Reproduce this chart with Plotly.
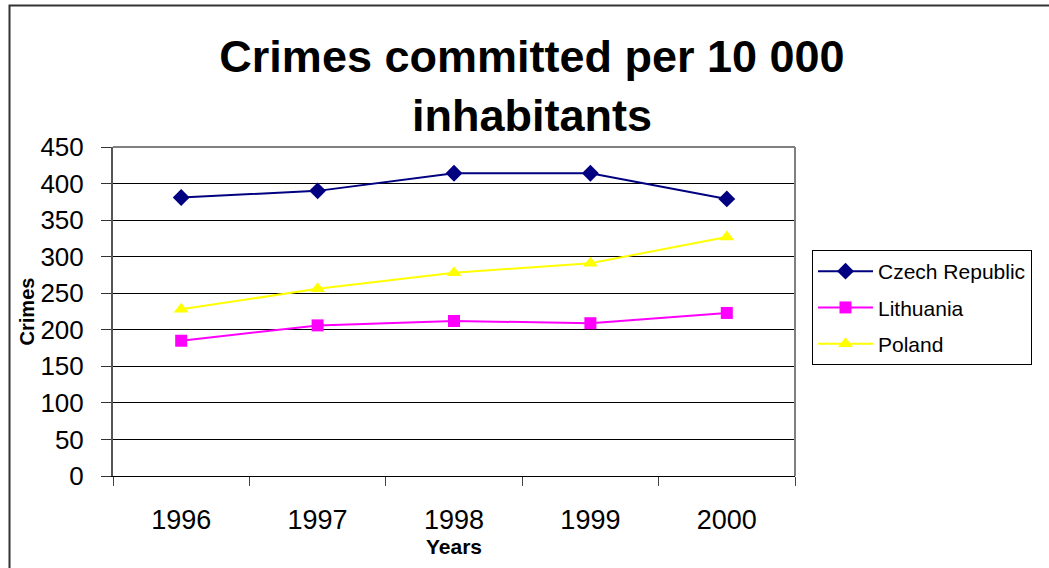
import plotly.graph_objects as go

years = ["1996", "1997", "1998", "1999", "2000"]
czech = [381, 390, 414, 414, 379]
lithuania = [185, 206, 212, 209, 223]
poland = [228, 256, 278, 291, 327]
y_ticks = [0, 50, 100, 150, 200, 250, 300, 350, 400, 450]

W, H = 1049, 568
L, R, T, B = 113, 795, 147, 476
pw, ph = R - L, B - T

fig = go.Figure()
series = [
    ("Czech Republic", czech, "#000080", "diamond", 13),
    ("Lithuania", lithuania, "#FF00FF", "square", 12),
    ("Poland", poland, "#FFFF00", "triangle-up", 13),
]
for i, (name, vals, col, sym, sz) in enumerate(series):
    fig.add_trace(go.Scatter(
        x=years, y=vals, name=name, mode="lines+markers",
        line=dict(color=col, width=2),
        marker=dict(symbol=sym, size=sz, color=col),
        legendgroup=f"g{i}",
    ))

def px_x(p):
    return (p - L) / pw

def px_y(p):
    return (B - p) / ph

fig.update_layout(
    width=W, height=H,
    margin=dict(l=L, r=W - R, t=T, b=H - B),
    paper_bgcolor="white", plot_bgcolor="white",
    font=dict(family="Arial, Liberation Sans, sans-serif", color="black"),
    title=dict(
        text="<b>Crimes committed per 10 000<br>inhabitants</b>",
        x=532 / W, xanchor="center",
        y=1 - 72 / H, yanchor="top", yref="container",
        font=dict(size=45, color="black"),
    ),
    showlegend=True,
    legend=dict(
        x=px_x(812), xanchor="left", y=px_y(250), yanchor="top",
        bordercolor="black", borderwidth=1, bgcolor="white",
        font=dict(size=21, color="black"),
        tracegroupgap=6, itemwidth=55,
    ),
    xaxis=dict(
        type="category", range=[-0.5, 4.5],
        showgrid=False, showline=True, linecolor="black", linewidth=1,
        ticks="outside", tickson="boundaries", ticklen=9, tickcolor="#444",
        tickfont=dict(size=27),
        ticklabelstandoff=20,
        title=dict(text="<b>Years</b>", font=dict(size=21), standoff=2),
        zeroline=False,
    ),
    yaxis=dict(
        range=[0, 450], tickvals=y_ticks,
        showgrid=True, gridcolor="black", gridwidth=1,
        showline=True, linecolor="#555", linewidth=2,
        ticks="outside", ticklen=10, tickcolor="#333",
        tickfont=dict(size=26),
        ticklabelstandoff=12,
        title=dict(text="<b>Crimes</b>", font=dict(size=20), standoff=0),
        zeroline=False,
    ),
    shapes=[
        dict(type="line", xref="paper", yref="paper", x0=0, x1=1, y0=1, y1=1,
             line=dict(color="#808080", width=2), layer="above"),
        dict(type="line", xref="paper", yref="paper", x0=1, x1=1, y0=0, y1=1,
             line=dict(color="#808080", width=2), layer="above"),
        dict(type="rect", xref="paper", yref="paper",
             x0=px_x(9.5), x1=px_x(1080), y0=px_y(600), y1=px_y(5.5),
             line=dict(color="#333", width=2), layer="below"),
    ],
)

fig.write_html("out.html")
